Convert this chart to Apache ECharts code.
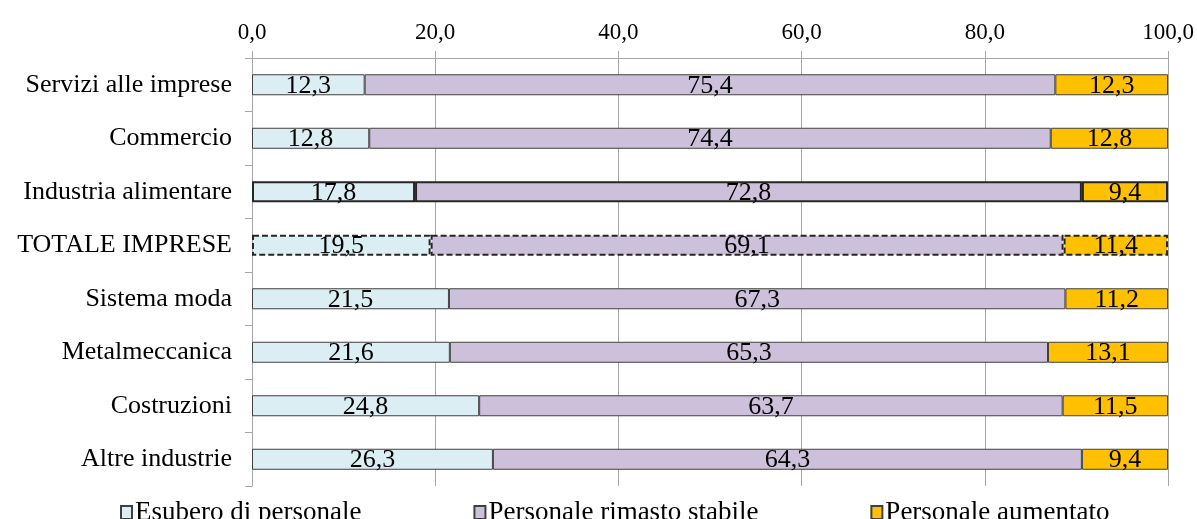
<!DOCTYPE html>
<html>
<head>
<meta charset="utf-8">
<script src="https://cdn.jsdelivr.net/npm/echarts@6/dist/echarts.min.js"></script>
<style>html,body{margin:0;padding:0;background:#fff}#c{width:1197px;height:519px}</style>
</head>
<body>
<div id="c"></div>
<script>
const categories = ['Servizi alle imprese','Commercio','Industria alimentare','TOTALE IMPRESE','Sistema moda','Metalmeccanica','Costruzioni','Altre industrie'];
const seriesNames = ['Esubero di personale','Personale rimasto stabile','Personale aumentato'];
const esubero = [12.3,12.8,17.8,19.5,21.5,21.6,24.8,26.3];
const stabile = [75.4,74.4,72.8,69.1,67.3,65.3,63.7,64.3];
const aumentato = [12.3,12.8,9.4,11.4,11.2,13.1,11.5,9.4];
const xTicks = [0,20,40,60,80,100];

const FONT = 'Liberation Serif';
const colors = ['#DAEEF3','#CCC0DA','#FFC000'];
const fmt = v => Number(v).toFixed(1).replace('.', ',');

function build(vals) {
  return vals.map((v, i) => {
    const it = { value: v };
    if (categories[i] === 'Industria alimentare') {
      it.itemStyle = { borderColor: '#262626', borderWidth: 2 };
    } else if (categories[i] === 'TOTALE IMPRESE') {
      it.itemStyle = { borderColor: '#262626', borderWidth: 2, borderType: [6, 3] };
    }
    return it;
  });
}

const chart = echarts.init(document.getElementById('c'));
const allVals = [esubero, stabile, aumentato];
chart.setOption({
  animation: false,
  textStyle: { fontFamily: FONT },
  grid: { left: 252, right: 29, top: 58, height: 428 },
  legend: {
    data: seriesNames,
    left: 115,
    top: 494,
    itemGap: 112,
    itemWidth: 11,
    itemHeight: 13,
    icon: 'rect',
    textStyle: { fontFamily: FONT, fontSize: 27, color: '#000', padding: [0, 0, 0, -2] }
  },
  xAxis: {
    type: 'value',
    position: 'top',
    min: xTicks[0],
    max: xTicks[xTicks.length - 1],
    interval: 20,
    axisLine: { show: true, lineStyle: { color: '#a6a6a6', width: 1 } },
    axisTick: { show: true, inside: false, length: 7, lineStyle: { color: '#a6a6a6' } },
    splitLine: { show: true, lineStyle: { color: '#a6a6a6', width: 1 } },
    axisLabel: { formatter: fmt, fontFamily: FONT, fontSize: 23, color: '#000', margin: 14 }
  },
  yAxis: {
    type: 'category',
    inverse: true,
    data: categories,
    axisLine: { show: true, lineStyle: { color: '#a6a6a6' } },
    axisTick: { show: true, length: 7, lineStyle: { color: '#a6a6a6' } },
    axisLabel: { fontFamily: FONT, fontSize: 26, color: '#000', margin: 20 }
  },
  series: seriesNames.map((name, k) => ({
    name,
    type: 'bar',
    stack: 'tot',
    barWidth: 21,
    data: build(allVals[k]),
    itemStyle: { color: colors[k], borderColor: '#404040', borderWidth: 1 },
    label: {
      show: true,
      position: 'inside',
      offset: [0, 1],
      formatter: p => fmt(p.value),
      fontFamily: FONT,
      fontSize: 26,
      color: '#000'
    }
  }))
});
</script>
</body>
</html>
